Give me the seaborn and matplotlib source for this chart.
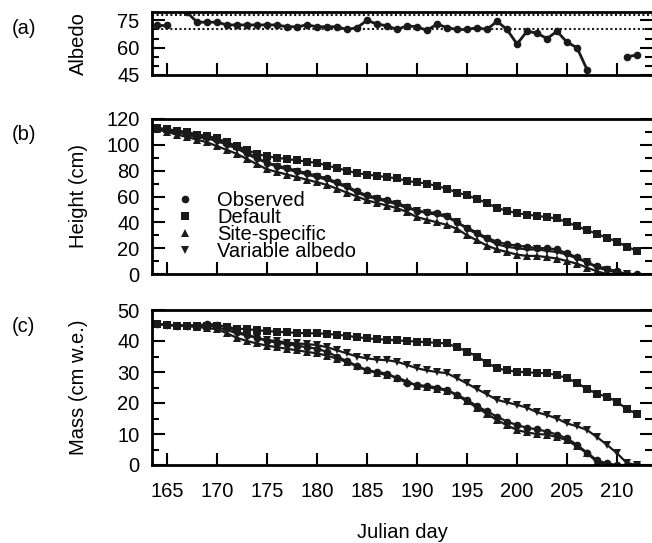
import numpy as np
import pandas as pd
import matplotlib
matplotlib.use("Agg")
import matplotlib.pyplot as plt
import seaborn as sns
from matplotlib.lines import Line2D
from matplotlib.ticker import MultipleLocator

days = list(range(164, 213))

albedo_obs = [72.5, 72.5, np.nan, 79.5, 74, 74, 74, 72.5, 72.5, 72.5,
              72.5, 72.5, 72.5, 71.5, 71.5, 72.5, 71.5, 71.5, 71.5, 70,
              71, 75, 73, 72, 70, 72, 71.5, 69.5, 73, 71,
              70, 70, 71, 70, 74.5, 70, 62, 69, 68, 65,
              69, 63, 60, 48, np.nan, np.nan, np.nan, 55, 56]
albedo_ref = [78, 70]

height_obs = [113, 112, 110, 108, 107, 106, 104, 101, 98, 94,
              90, 86, 84, 82, 80, 78, 76, 74, 71, 68,
              64, 61, 59, 57, 55, 52, 49, 48, 47, 45,
              40, 36, 32, 28, 25, 23, 22, 21, 20, 20,
              19, 16, 13, 9, 6, 4, 2, 0, 0]
height_default = [113, 112, 111, 110, 108, 107, 105, 102, 99, 96,
                  93, 91, 90, 89, 88, 87, 86, 84, 82, 80,
                  78, 77, 76, 75, 74, 72, 71, 70, 68, 66,
                  63, 61, 58, 55, 51, 49, 47, 46, 45, 44,
                  43, 40, 37, 34, 31, 28, 25, 21, 18]
height_site = [112, 110, 108, 106, 104, 102, 99, 96, 93, 89,
               85, 81, 79, 77, 75, 73, 71, 69, 66, 63,
               60, 57, 55, 53, 51, 48, 44, 42, 40, 38,
               35, 30, 26, 22, 19, 17, 15, 14, 14, 13,
               12, 10, 8, 5, 2, 0, 0]
height_var = [112, 111, 110, 108, 106, 105, 103, 100, 97, 93,
              89, 86, 83, 81, 79, 77, 75, 73, 70, 67,
              63, 60, 58, 56, 54, 51, 49, 47, 46, 44,
              40, 35, 31, 27, 23, 21, 20, 19, 19, 18,
              17, 15, 12, 9, 5, 3, 1, 0]

mass_obs = [45.5, 45.3, 45, 45, 45, 45.5, 45.3, 44.5, 43, 42,
            41, 40, 39.5, 39, 38.5, 38, 37.5, 36.5, 35, 33.5,
            32, 30.6, 30, 29.5, 28, 26.5, 25.8, 25.5, 25, 24.2,
            22.7, 21, 19, 17.3, 15.6, 14, 12.9, 12, 11.5, 10.8,
            9.8, 8.6, 6.5, 4, 1.5, 0.5, 0, 0, 0]
mass_default = [45.5, 45.2, 45, 45, 45, 45, 45, 44.5, 44, 43.8,
                43.5, 43.2, 43, 42.8, 42.6, 42.5, 42.5, 42.3, 42, 41.7,
                41.2, 40.9, 40.6, 40.4, 40.2, 40, 39.8, 39.6, 39.4, 39.2,
                38, 36.6, 35, 33, 31.2, 30.5, 30.1, 29.9, 29.7, 29.6,
                29, 28, 26.5, 24.5, 23, 22, 20.4, 18, 16.5]
mass_site = [45.5, 45.2, 45, 44.8, 44.5, 44.2, 43.8, 42.5, 41, 40,
             39.2, 38.5, 38, 37.5, 37, 36.5, 36, 35.3, 34.3, 33.2,
             31.8, 30.5, 29.7, 29, 28.2, 27, 25.6, 25.1, 24.6, 24,
             22.5, 20.5, 18.5, 16.5, 14.5, 12.8, 11.3, 10.5, 10, 9.8,
             9, 8, 6, 3.8, 1, 0, 0]
mass_var = [45.5, 45.2, 45, 45, 45, 45, 44.5, 43.5, 42.5, 41.8,
            41, 40.3, 40, 39.5, 39.2, 39, 38.7, 38, 37, 36,
            35, 34.4, 34, 33.8, 33.3, 32.3, 31.2, 30.5, 30, 29.6,
            28, 26.3, 24.5, 22.8, 21, 20.2, 19.4, 18.5, 17, 16.1,
            15, 13.4, 12.5, 11.3, 9, 6.5, 3.8, 0.6, 0]

series_names = ["Observed", "Default", "Site-specific", "Variable albedo"]
series_markers = {"Observed": "o", "Default": "s",
                  "Site-specific": "^", "Variable albedo": "v"}


def long_frame(obs, default, site, var):
    parts = []
    for name, vals in zip(series_names, [obs, default, site, var]):
        parts.append(pd.DataFrame({"day": days[:len(vals)], "value": vals,
                                   "series": name}))
    return pd.concat(parts, ignore_index=True)


df_height = long_frame(height_obs, height_default, height_site, height_var)
df_mass = long_frame(mass_obs, mass_default, mass_site, mass_var)

df_alb = pd.DataFrame({"day": days, "value": albedo_obs})
df_alb["seg"] = df_alb["value"].isna().cumsum()
df_alb = df_alb.dropna()

sns.set_theme(style="ticks")
fs = 14.5
plt.rcParams.update({
    "font.family": ["Liberation Sans", "DejaVu Sans"],
    "font.size": fs,
    "axes.labelsize": fs,
    "xtick.labelsize": fs,
    "ytick.labelsize": fs,
    "legend.fontsize": fs,
    "axes.linewidth": 2,
    "text.color": "black",
    "axes.labelcolor": "black",
    "axes.edgecolor": "black",
    "xtick.color": "black",
    "ytick.color": "black",
})

fig = plt.figure(figsize=(6.52, 5.43), dpi=100)
left, width = 152 / 652, 500 / 652
ax_a = fig.add_axes([left, 1 - 75 / 543, width, 63 / 543])
ax_b = fig.add_axes([left, 1 - 274 / 543, width, 155 / 543])
ax_c = fig.add_axes([left, 1 - 465 / 543, width, 155 / 543])

line_kw = dict(color="k", linewidth=1.6, markersize=5.5,
               markeredgecolor="k", markeredgewidth=0)

# (a) albedo
sns.lineplot(data=df_alb, x="day", y="value", units="seg", estimator=None,
             marker="o", ax=ax_a, legend=False,
             **{**line_kw, "linewidth": 2.0})
for v in albedo_ref:
    ax_a.axhline(v, color="k", linestyle=(0, (1, 1.2)), linewidth=1.5)
ax_a.set_ylim(45, 79.6)
ax_a.yaxis.set_major_locator(MultipleLocator(15))
ax_a.yaxis.set_minor_locator(MultipleLocator(5))
ax_a.set_ylabel("Albedo")

# (b) height
sns.lineplot(data=df_height, x="day", y="value", style="series",
             markers=series_markers, dashes=False, estimator=None,
             ax=ax_b, legend=False, **line_kw)
ax_b.set_ylim(0, 120)
ax_b.yaxis.set_major_locator(MultipleLocator(20))
ax_b.yaxis.set_minor_locator(MultipleLocator(10))
ax_b.set_ylabel("Height (cm)")

handles = [Line2D([], [], color="k", marker=series_markers[n], linestyle="none",
                  markersize=5.5, markeredgewidth=0) for n in series_names]
ax_b.legend(handles, series_names, loc="upper left",
            bbox_to_anchor=(0.046, 0.535), frameon=False, handlelength=1.0,
            handletextpad=1.1, borderpad=0, borderaxespad=0,
            labelspacing=-0.1)

# (c) mass
sns.lineplot(data=df_mass, x="day", y="value", style="series",
             markers=series_markers, dashes=False, estimator=None,
             ax=ax_c, legend=False, **line_kw)
ax_c.set_ylim(0, 50)
ax_c.yaxis.set_major_locator(MultipleLocator(10))
ax_c.yaxis.set_minor_locator(MultipleLocator(5))
ax_c.set_ylabel("Mass (cm w.e.)")
ax_c.set_xlabel("Julian day", labelpad=16)

for ax in (ax_a, ax_b, ax_c):
    ax.set_xlim(163.5, 213.5)
    ax.xaxis.set_major_locator(MultipleLocator(5))
    ax.spines["right"].set_visible(False)
    ax.tick_params(axis="both", which="major", direction="in", length=9,
                   width=1.5, right=True, top=False)
    ax.tick_params(axis="y", which="minor", direction="in", length=5,
                   width=1.5, right=True)
    ax.tick_params(axis="y", which="both", pad=9)
    ax.tick_params(axis="x", which="major", pad=12)
    ax.yaxis.set_label_coords(-0.128, 0.5)
    if ax is not ax_c:
        ax.set_xlabel("")
        ax.tick_params(axis="x", labelbottom=False)

fig.text(12 / 652, 1 - 29 / 543, "(a)", va="center", ha="left")
fig.text(12 / 652, 1 - 135 / 543, "(b)", va="center", ha="left")
fig.text(12 / 652, 1 - 326 / 543, "(c)", va="center", ha="left")

fig.savefig("out.png", dpi=100)
